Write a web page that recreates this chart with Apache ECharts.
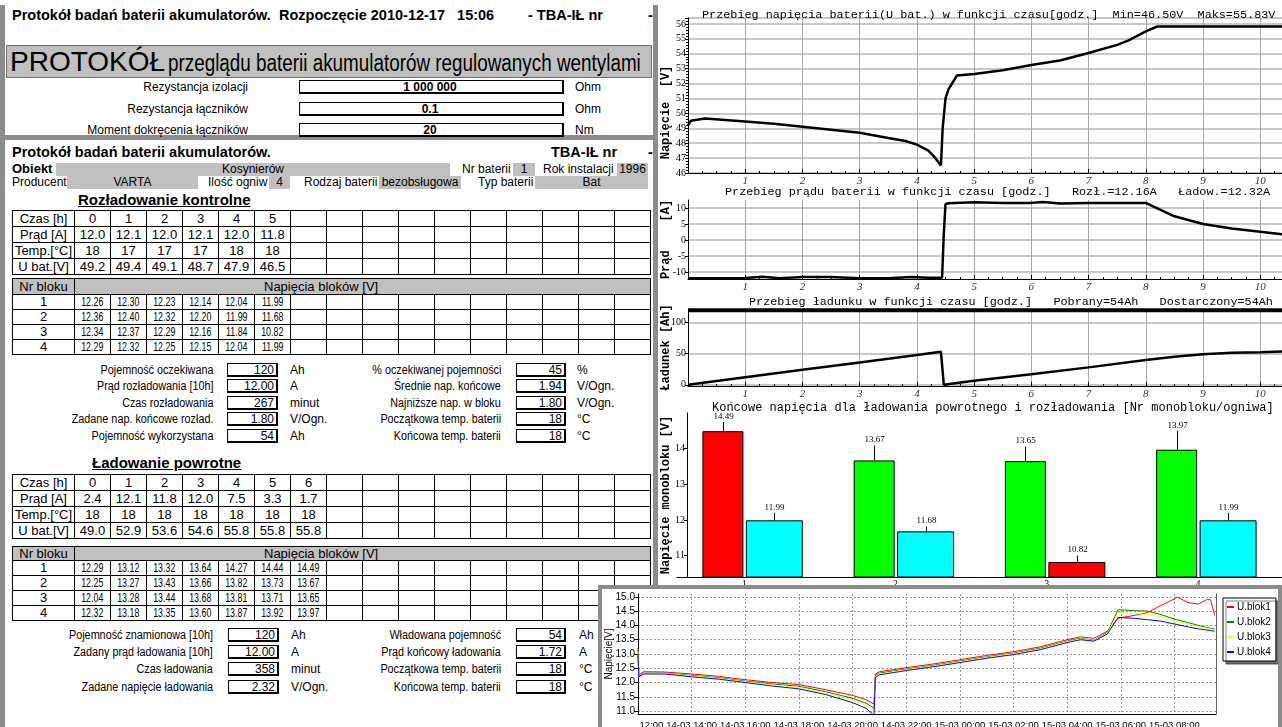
<!DOCTYPE html>
<html lang="pl">
<head>
<meta charset="UTF-8">
<meta name="viewport" content="width=device-width, initial-scale=1.0">
<title>Protokół badań baterii akumulatorów</title>
<script src="https://cdn.jsdelivr.net/npm/echarts@6.0.0/dist/echarts.min.js"></script>
<style>
  body { margin:0; width:1282px; height:727px; overflow:hidden; position:relative; background:#fff; color:#000;
         font-family:'Liberation Sans', Arial, sans-serif; }
  .t { position:absolute; white-space:nowrap; font-size:12px; line-height:14px; height:14px; }
  .n { display:inline-block; }
  .frame { position:absolute; box-sizing:border-box; border:5px solid #8c8c8c; }
  .gray { position:absolute; background:#c0c0c0; text-align:center; font-size:12px; line-height:13px; height:13px; white-space:nowrap; }
  .box { position:absolute; box-sizing:border-box; border:1px solid #000; border-right-width:2px; border-bottom-width:2px;
         height:14px; font-size:12px; line-height:12px; text-align:right; padding-right:2px; }
  table.tb { position:absolute; left:12px; border-collapse:collapse; table-layout:fixed; width:638px; font-size:13px; }
  table.tb td { border:1px solid #000; padding:0; text-align:center; line-height:12px; overflow:hidden; white-space:nowrap; }
  table.tb tr.hd td { background:#c0c0c0; }
  table.tb td .c { display:inline-block; transform:scaleX(0.68); font-size:13px; }
  #right { position:absolute; left:660px; top:0; width:622px; height:590px; }
  #ovl { position:absolute; left:598px; top:585px; width:676px; height:138px; border:4px solid #8c8c8c; border-bottom:none; background:#fff; }
  #ovlc { width:676px; height:138px; }
</style>
</head>
<body>
<div class="frame" style="left:0;top:5px;width:658px;height:135px;border-top:none"></div>
<div class="frame" style="left:0;top:135px;width:658px;height:600px"></div>
<div id="right"></div>
<div id="ovl"><div id="ovlc"></div></div>
<script>
// ---------- dane protokołu ----------
var startDate = '2010-12-17';
var startTime = '15:06';
var rezLabels = ['Rezystancja izolacji', 'Rezystancja łączników', 'Moment dokręcenia łączników'];
var rezValues = ['1 000 000', '0.1', '20'];
var rezUnits = ['Ohm', 'Ohm', 'Nm'];

var rozCzas = ['0', '1', '2', '3', '4', '5'];
var rozPrad = ['12.0', '12.1', '12.0', '12.1', '12.0', '11.8'];
var rozTemp = ['18', '17', '17', '17', '18', '18'];
var rozUbat = ['49.2', '49.4', '49.1', '48.7', '47.9', '46.5'];
var rozBloki = [
  ['12.26', '12.30', '12.23', '12.14', '12.04', '11.99'],
  ['12.36', '12.40', '12.32', '12.20', '11.99', '11.68'],
  ['12.34', '12.37', '12.29', '12.16', '11.84', '10.82'],
  ['12.29', '12.32', '12.25', '12.15', '12.04', '11.99']
];
var ladCzas = ['0', '1', '2', '3', '4', '5', '6'];
var ladPrad = ['2.4', '12.1', '11.8', '12.0', '7.5', '3.3', '1.7'];
var ladTemp = ['18', '18', '18', '18', '18', '18', '18'];
var ladUbat = ['49.0', '52.9', '53.6', '54.6', '55.8', '55.8', '55.8'];
var ladBloki = [
  ['12.29', '13.12', '13.32', '13.64', '14.27', '14.44', '14.49'],
  ['12.25', '13.27', '13.43', '13.66', '13.82', '13.73', '13.67'],
  ['12.04', '13.28', '13.44', '13.68', '13.81', '13.71', '13.65'],
  ['12.32', '13.18', '13.35', '13.60', '13.87', '13.92', '13.97']
];
var rozLeft = [['Pojemność oczekiwana', '120', 'Ah'], ['Prąd rozładowania [10h]', '12.00', 'A'], ['Czas rozładowania', '267', 'minut'],
               ['Zadane nap. końcowe rozład.', '1.80', 'V/Ogn.'], ['Pojemność wykorzystana', '54', 'Ah']];
var rozRight = [['% oczekiwanej pojemności', '45', '%'], ['Średnie nap. końcowe', '1.94', 'V/Ogn.'], ['Najniższe nap. w bloku', '1.80', 'V/Ogn.'],
                ['Początkowa temp. baterii', '18', '°C'], ['Końcowa temp. baterii', '18', '°C']];
var ladLeft = [['Pojemność znamionowa [10h]', '120', 'Ah'], ['Zadany prąd ładowania [10h]', '12.00', 'A'], ['Czas ładowania', '358', 'minut'],
               ['Zadane napięcie ładowania', '2.32', 'V/Ogn.']];
var ladRight = [['Władowana pojemność', '54', 'Ah'], ['Prąd końcowy  ładowania', '1.72', 'A'], ['Początkowa temp. baterii', '18', '°C'],
                ['Końcowa temp. baterii', '18', '°C']];

// ---------- dane wykresów ----------
var tU = [0, 0.05, 0.3, 1, 1.5, 2, 2.5, 3, 3.5, 3.8, 4, 4.2, 4.3, 4.42, 4.45, 4.5, 4.55, 4.7, 5, 5.5, 6, 6.5, 7, 7.5, 7.7, 8, 8.2, 10.38];
var uBat = [49.2, 49.5, 49.65, 49.45, 49.3, 49.1, 48.9, 48.7, 48.35, 48.15, 47.9, 47.5, 47.1, 46.5, 49.0, 51.0, 51.6, 52.55, 52.65, 52.9, 53.25, 53.55, 54.05, 54.6, 54.9, 55.5, 55.83, 55.83];
var tI = [0, 0.5, 1, 1.3, 1.6, 2, 2.5, 3, 3.5, 3.9, 4.2, 4.44, 4.47, 4.5, 4.55, 5.0, 5.5, 6.0, 6.2, 6.5, 7, 7.5, 8.0, 8.5, 9.0, 9.5, 10.0, 10.38];
var iBat = [-12.0, -12.0, -11.9, -11.5, -12.0, -11.6, -11.6, -12.0, -12.0, -11.6, -11.8, -11.8, 2.0, 11.2, 11.5, 11.8, 11.6, 11.6, 11.9, 11.4, 11.6, 11.6, 11.6, 7.4, 5.0, 3.6, 2.6, 1.8];
var tQ = [0, 1, 2, 3, 4, 4.42, 4.45, 4.47, 5, 6, 7, 8, 8.5, 9, 9.5, 10, 10.38];
var qBat = [0, 12, 24, 36, 48, 53, 53, 0, 6.5, 17, 28, 40, 45, 49, 51.5, 52.5, 53.5];
var tCap = [0, 10.38];
var qCap = [120, 120];
var iTicks = [-10, -5, 0, 5, 10];
var qTicks = [0, 50, 100];

var blocks = ['1', '2', '3', '4'];
var uCharge = [14.49, 13.67, 13.65, 13.97];
var uChargeTop = [14.75, 14.09, 14.06, 14.5];
var uDis = [11.99, 11.68, 10.82, 11.99];
var uDisTop = [12.2, 11.82, 11.0, 12.2];
var barTicks = [11, 12, 13, 14];

var tO = [0, 0.03, 0.2, 1, 2, 3, 4, 5, 6, 7, 8, 8.5, 8.8, 8.85, 9, 10, 11, 12, 13, 14, 15, 16, 16.5, 17, 17.5, 17.9, 18.5, 19, 19.5, 20, 20.1, 20.5, 20.9, 21.2, 21.35, 21.5];
var blok1 = [13.2, 12.25, 12.38, 12.37, 12.3, 12.22, 12.1, 12.0, 11.93, 11.75, 11.55, 11.4, 11.25, 12.3, 12.38, 12.52, 12.65, 12.8, 12.95, 13.08, 13.25, 13.5, 13.6, 13.55, 13.8, 14.25, 14.35, 14.45, 14.7, 14.93, 15.0, 14.8, 14.75, 14.9, 14.9, 14.35];
var blok2 = [13.15, 12.2, 12.33, 12.33, 12.25, 12.17, 12.05, 11.95, 11.87, 11.68, 11.45, 11.28, 11.1, 12.25, 12.33, 12.47, 12.6, 12.75, 12.9, 13.03, 13.2, 13.45, 13.55, 13.48, 13.75, 14.55, 14.52, 14.5, 14.38, 14.22, 14.2, 14.1, 14.0, 13.93, 13.9, 13.88];
var blok3 = [13.1, 12.2, 12.32, 12.32, 12.23, 12.15, 12.03, 11.92, 11.83, 11.63, 11.38, 11.2, 11.0, 12.22, 12.3, 12.45, 12.58, 12.73, 12.88, 13.01, 13.18, 13.43, 13.53, 13.47, 13.72, 14.45, 14.42, 14.38, 14.3, 14.15, 14.13, 14.05, 13.95, 13.9, 13.87, 13.85];
var blok4 = [13.0, 12.2, 12.3, 12.3, 12.2, 12.12, 12.0, 11.88, 11.78, 11.58, 11.3, 11.1, 10.85, 12.18, 12.27, 12.42, 12.55, 12.7, 12.85, 12.98, 13.15, 13.4, 13.5, 13.45, 13.7, 14.28, 14.25, 14.2, 14.15, 14.05, 14.03, 13.95, 13.88, 13.84, 13.82, 13.8];
var oTicks = [11, 11.5, 12, 12.5, 13, 13.5, 14, 14.5, 15];

// ---------- część tabelaryczna (HTML) ----------
function put(html, css, cls) {
  var d = document.createElement('div');
  d.className = cls || 't';
  d.style.cssText = css;
  d.innerHTML = html;
  document.body.insertBefore(d, document.getElementById('right'));
  return d;
}
function rlabel(text, right, yc, sx) {   // tekst wyrównany do prawej
  put('<span class="n" style="transform:scaleX(' + (sx || 1) + ');transform-origin:right center">' + text + '</span>',
      'right:' + (1282 - right) + 'px;top:' + (yc - 7) + 'px;text-align:right');
}
function gfield(l, r, yc, text) {
  put(text, 'left:' + l + 'px;width:' + (r - l) + 'px;top:' + (yc - 6) + 'px', 'gray');
}
function vbox(l, r, yc, text, center) {
  put(text, 'left:' + l + 'px;width:' + (r - l) + 'px;top:' + (yc - 7) + 'px' + (center ? ';text-align:center;font-weight:bold' : ''), 'box');
}
function table(top, rows, heights, hdr) {
  var h = '<colgroup><col style="width:62px">';
  for (var i = 0; i < 16; i++) h += '<col style="width:36px">';
  h += '</colgroup>';
  rows.forEach(function (r, k) {
    h += '<tr style="height:' + heights[k] + 'px"' + (hdr && k === 0 ? ' class="hd"' : '') + '>';
    if (hdr && k === 0) {
      h += '<td>' + r[0] + '</td><td colspan="16" style="text-align:left;padding-left:189px">' + r[1] + '</td>';
    } else {
      for (var j = 0; j < 17; j++) {
        var v = r[j] !== undefined ? r[j] : '';
        h += '<td>' + (hdr && j > 0 && v ? '<span class="c">' + v + '</span>' : v) + '</td>';
      }
    }
    h += '</tr>';
  });
  var t = document.createElement('table');
  t.className = 'tb';
  t.style.top = top + 'px';
  t.innerHTML = h;
  document.body.insertBefore(t, document.getElementById('right'));
}

// górny panel
put('<b>Protokół badań baterii akumulatorów.&nbsp; Rozpoczęcie ' + startDate + '&nbsp;&nbsp;&nbsp;' + startTime + '</b>',
    'left:12px;top:7px;font-size:14.5px;line-height:16px;height:16px');
put('<b>- TBA-IŁ nr</b>', 'left:528px;top:7px;font-size:14.5px;line-height:16px;height:16px');
put('<b>-</b>', 'left:648px;top:7px;font-size:14.5px;line-height:16px;height:16px');
put('<span style="font-size:28px">PROTOKÓŁ</span> <span class="n" style="font-size:23px;transform:scaleX(0.82);transform-origin:left center">przeglądu baterii akumulatorów regulowanych wentylami</span>',
    'left:6px;top:45px;width:641px;height:31px;line-height:31px;background:#c0c0c0;border:1px solid #707070;padding-left:3px;box-sizing:content-box');
[87, 109, 130].forEach(function (yc, i) {
  rlabel(rezLabels[i], 248, yc);
  vbox(299, 564, yc, rezValues[i], true);
  put(rezUnits[i], 'left:575px;top:' + (yc - 7) + 'px');
});

// dolny panel – nagłówek
put('<b>Protokół badań baterii akumulatorów.</b>', 'left:12px;top:144px;font-size:14.5px;line-height:16px;height:16px');
put('<b>TBA-IŁ nr</b>', 'left:551px;top:144px;font-size:14.5px;line-height:16px;height:16px');
put('<b>-</b>', 'left:648px;top:144px;font-size:14.5px;line-height:16px;height:16px');
put('<b>Obiekt</b>', 'left:12px;top:162px;font-size:13px');
gfield(56, 450, 169, 'Kosynierów');
put('Nr baterii', 'left:462px;top:162px');
gfield(513, 535, 169, '1');
put('Rok instalacji', 'left:543px;top:162px');
gfield(617, 648, 169, '1996');
put('Producent', 'left:12px;top:175px');
gfield(67, 198, 182, 'VARTA');
put('Ilość ogniw', 'left:208px;top:175px');
gfield(269, 290, 182, '4');
put('Rodzaj baterii', 'left:304px;top:175px');
gfield(379, 461, 182, 'bezobsługowa');
put('Typ baterii', 'left:478px;top:175px');
gfield(535, 648, 182, 'Bat');

put('<b><u>Rozładowanie kontrolne</u></b>', 'left:78px;top:191px;font-size:15px;line-height:18px;height:18px');
table(210, [['Czas [h]'].concat(rozCzas), ['Prąd [A]'].concat(rozPrad), ['Temp.[°C]'].concat(rozTemp), ['U bat.[V]'].concat(rozUbat)], [16, 16, 16, 16]);
table(278, [['Nr bloku', 'Napięcia bloków [V]']].concat(rozBloki.map(function (r, i) { return [String(i + 1)].concat(r); })), [16, 15, 15, 15, 15], true);
[370, 386, 403, 419, 436].forEach(function (yc, i) {
  rlabel(rozLeft[i][0], 213, yc, 0.9);
  vbox(227, 278, yc, rozLeft[i][1]);
  put(rozLeft[i][2], 'left:290px;top:' + (yc - 7) + 'px');
  rlabel(rozRight[i][0], 501, yc, 0.9);
  vbox(516, 566, yc, rozRight[i][1]);
  put(rozRight[i][2], 'left:577px;top:' + (yc - 7) + 'px');
});

put('<b><u>Ładowanie powrotne</u></b>', 'left:92px;top:454px;font-size:15px;line-height:18px;height:18px');
table(474, [['Czas [h]'].concat(ladCzas), ['Prąd [A]'].concat(ladPrad), ['Temp.[°C]'].concat(ladTemp), ['U bat.[V]'].concat(ladUbat)], [16, 16, 16, 16]);
table(546, [['Nr bloku', 'Napięcia bloków [V]']].concat(ladBloki.map(function (r, i) { return [String(i + 1)].concat(r); })), [14, 15, 15, 15, 15], true);
[635, 652, 669, 687].forEach(function (yc, i) {
  rlabel(ladLeft[i][0], 213, yc, 0.9);
  vbox(228, 279, yc, ladLeft[i][1]);
  put(ladLeft[i][2], 'left:291px;top:' + (yc - 7) + 'px');
  rlabel(ladRight[i][0], 501, yc, 0.9);
  vbox(516, 566, yc, ladRight[i][1]);
  put(ladRight[i][2], 'left:579px;top:' + (yc - 7) + 'px');
});

// ---------- wykresy po prawej ----------
var serif = 'Liberation Serif', mono = 'Liberation Mono', sans = 'Liberation Sans';
var T_MAX = 10.38;
function zip(a, b) { return a.map(function (v, i) { return [v, b[i]]; }); }

function timeAxis(gi) {
  return {
    type: 'value', gridIndex: gi, min: 0, max: T_MAX, interval: 1,
    axisLine: { onZero: false, lineStyle: { color: '#000' } },
    axisTick: { inside: true, length: 4, lineStyle: { color: '#000' } },
    minorTick: { show: true, splitNumber: 4, length: 2, lineStyle: { color: '#000' } },
    axisLabel: { showMinLabel: false, showMaxLabel: false, fontFamily: serif, fontStyle: 'italic', fontSize: 11, color: '#333', margin: 3 },
    splitLine: { show: true, lineStyle: { color: '#a8a8a8', width: 1 } }
  };
}
function yName(text, pad) {
  return { name: text, nameLocation: 'middle', nameGap: 16, nameMoveOverlap: false,
           nameTextStyle: { fontFamily: mono, fontWeight: 'bold', fontSize: 12, color: '#000', padding: pad || 0 } };
}
var yLabel = { fontFamily: serif, fontSize: 10, color: '#000', margin: 2 };
var hGrid = { show: true, lineStyle: { color: '#c8c8c8', width: 2 } };

function whisker(off) {
  return function (params, api) {
    var c = api.value(0), v = api.value(1), top = api.value(2);
    var p0 = api.coord([c, v]), p1 = api.coord([c, top]);
    var x = Math.round(p0[0] + off) + 0.5;
    return {
      type: 'group', children: [
        { type: 'line', shape: { x1: x, y1: p0[1], x2: x, y2: p1[1] }, style: { stroke: '#000', lineWidth: 1 } },
        { type: 'text', x: x, y: p1[1] - 1, style: { text: v.toFixed(2), align: 'center', verticalAlign: 'bottom', fontSize: 9, fontFamily: serif, fill: '#000' } }
      ]
    };
  };
}

var titleStyle = { fontFamily: mono, fontSize: 11.8, fontWeight: 'normal', color: '#000' };
var chR = echarts.init(document.getElementById('right'));
chR.setOption({
  animation: false,
  title: [
    { text: 'Przebieg napięcia baterii(U bat.) w funkcji czasu[godz.]  Min=46.50V  Maks=55.83V', left: 42, top: 9, padding: 0, textStyle: titleStyle },
    { text: 'Przebieg prądu baterii w funkcji czasu [godz.]   Rozł.=12.16A   Ładow.=12.32A', left: 65, top: 186, padding: 0, textStyle: titleStyle },
    { text: 'Przebieg ładunku w funkcji czasu [godz.]   Pobrany=54Ah   Dostarczony=54Ah', left: 89, top: 296, padding: 0, textStyle: titleStyle },
    { text: 'Końcowe napięcia dla ładowania powrotnego i rozładowania [Nr monobloku/ogniwa]', left: 52, top: 402, padding: 0,
      textStyle: { fontFamily: mono, fontSize: 12, fontWeight: 'normal', color: '#000' } }
  ],
  grid: [
    { left: 28, right: 0, top: 18, height: 155, outerBoundsMode: 'none' },
    { left: 28, right: 0, top: 200, height: 79, outerBoundsMode: 'none' },
    { left: 28, right: 0, top: 309, height: 77, outerBoundsMode: 'none' },
    { left: 17, right: 0, top: 413, height: 164, outerBoundsMode: 'none' }
  ],
  xAxis: [
    timeAxis(0), timeAxis(1), timeAxis(2),
    { type: 'category', gridIndex: 3, data: blocks,
      axisLine: { lineStyle: { color: '#000' } }, axisTick: { show: false },
      axisLabel: { fontFamily: serif, fontSize: 10, color: '#000', margin: 2, padding: [0, 17, 0, 0] } }
  ],
  yAxis: [
    Object.assign({ type: 'value', gridIndex: 0, min: 46, max: 56.4, interval: 1,
      axisLine: { show: true, lineStyle: { color: '#000' } },
      axisTick: { show: true, length: 3, lineStyle: { color: '#000' } },
      minorTick: { show: true, splitNumber: 5, length: 2, lineStyle: { color: '#000' } },
      axisLabel: Object.assign({ showMaxLabel: false }, yLabel),
      splitLine: hGrid }, yName('Napięcie  [V]', [0, 34, 0, 0])),
    Object.assign({ type: 'value', gridIndex: 1, min: -12.2, max: 12.5, splitNumber: 5,
      axisLine: { show: true, onZero: false, lineStyle: { color: '#000' } },
      axisTick: { show: true, length: 3, customValues: iTicks, lineStyle: { color: '#000' } },
      axisLabel: Object.assign({ customValues: iTicks }, yLabel),
      splitLine: hGrid }, yName('Prąd    [A]')),
    Object.assign({ type: 'value', gridIndex: 2, min: -2, max: 122, splitNumber: 2,
      axisLine: { show: true, onZero: false, lineStyle: { color: '#000' } },
      axisTick: { show: true, length: 3, customValues: qTicks, lineStyle: { color: '#000' } },
      axisLabel: Object.assign({ customValues: qTicks }, yLabel),
      splitLine: hGrid }, yName('Ładunek [Ah]')),
    Object.assign({ type: 'value', gridIndex: 3, min: 10.4, max: 15, offset: -10,
      axisLine: { show: true, onZero: false, lineStyle: { color: '#000' } },
      axisTick: { show: true, length: 3, customValues: barTicks, lineStyle: { color: '#000' } },
      axisLabel: Object.assign({ customValues: barTicks }, yLabel),
      splitLine: { show: false } }, yName('Napięcie monobloku [V]'), { nameGap: 15 })
  ],
  series: [
    { type: 'line', xAxisIndex: 0, yAxisIndex: 0, data: zip(tU, uBat), symbol: 'none', lineStyle: { color: '#000', width: 2.5 } },
    { type: 'line', xAxisIndex: 1, yAxisIndex: 1, data: zip(tI, iBat), symbol: 'none', lineStyle: { color: '#000', width: 2.5 } },
    { type: 'line', xAxisIndex: 2, yAxisIndex: 2, data: zip(tQ, qBat), symbol: 'none', lineStyle: { color: '#000', width: 2.5 } },
    { type: 'line', xAxisIndex: 2, yAxisIndex: 2, data: zip(tCap, qCap), symbol: 'none', lineStyle: { color: '#000', width: 4 } },
    { type: 'bar', xAxisIndex: 3, yAxisIndex: 3, data: uCharge, barWidth: 41, barGap: '6%',
      itemStyle: { borderColor: '#000', borderWidth: 1, color: function (p) { return p.value > 14.4 ? '#ff0000' : '#00ff00'; } } },
    { type: 'bar', xAxisIndex: 3, yAxisIndex: 3, data: uDis, barWidth: 57, barGap: '6%',
      itemStyle: { borderColor: '#000', borderWidth: 1, color: function (p) { return p.value < 11 ? '#ff0000' : '#00ffff'; } } },
    { type: 'custom', xAxisIndex: 3, yAxisIndex: 3, renderItem: whisker(-29.7), encode: { x: 0, y: 1 },
      data: blocks.map(function (b, i) { return [i, uCharge[i], uChargeTop[i]]; }) },
    { type: 'custom', xAxisIndex: 3, yAxisIndex: 3, renderItem: whisker(21.7), encode: { x: 0, y: 1 },
      data: blocks.map(function (b, i) { return [i, uDis[i], uDisTop[i]]; }) }
  ]
});

// ---------- wykres napięć bloków (nakładka) ----------
function hourLabel(v) {
  var tot = 12 + v, d = 14 + Math.floor(tot / 24), h = tot % 24;
  var s = (d < 10 ? '0' : '') + d + '-03 ' + (h < 10 ? '0' : '') + h + ':00';
  return v === 0 ? '{hid|' + s.slice(0, 6) + '}' + s.slice(6) : s;
}
var dash = { color: '#9a9a9a', type: [2, 2], width: 1 };
var chO = echarts.init(document.getElementById('ovlc'));
chO.setOption({
  animation: false,
  grid: { left: 36, right: 62, top: 5, bottom: 13, outerBoundsMode: 'none' },
  legend: {
    orient: 'vertical', left: 621, top: 9, icon: 'rect', itemWidth: 7, itemHeight: 2, itemGap: 5, padding: [4, 5, 4, 4],
    backgroundColor: '#fff', borderColor: '#000', borderWidth: 1,
    shadowColor: 'rgba(0,0,0,0.55)', shadowBlur: 1, shadowOffsetX: 3, shadowOffsetY: 3,
    textStyle: { fontSize: 10, fontFamily: sans, color: '#000', padding: [0, 0, 0, -2] }
  },
  xAxis: {
    type: 'value', min: 0, max: 21.55, interval: 2,
    axisLine: { lineStyle: { color: '#000' } }, axisTick: { show: false },
    axisLabel: { showMaxLabel: false, fontSize: 9.5, fontFamily: sans, color: '#000', margin: 6, formatter: hourLabel,
                 rich: { hid: { color: 'rgba(0,0,0,0)', fontSize: 9.5, fontFamily: sans } } },
    splitLine: { lineStyle: dash }
  },
  yAxis: [
    { type: 'value', min: 10.9, max: 15.1, splitNumber: 8,
      axisLine: { show: true, lineStyle: { color: '#000' } },
      axisTick: { show: true, length: 4, customValues: oTicks, lineStyle: { color: '#000' } },
      axisLabel: { customValues: oTicks, formatter: function (v) { return v.toFixed(1); }, fontSize: 10, fontFamily: sans, color: '#000', margin: 3 },
      splitLine: { lineStyle: dash },
      name: 'Napięcie[V]', nameLocation: 'middle', nameGap: 24, nameMoveOverlap: false,
      nameTextStyle: { fontSize: 10, fontFamily: sans, color: '#000' } },
    { type: 'value', min: 10.9, max: 15.1, position: 'right',
      axisLine: { show: true, lineStyle: { color: '#606060' } }, axisTick: { show: false }, axisLabel: { show: false }, splitLine: { show: false } }
  ],
  series: [
    { name: 'U.blok1', type: 'line', data: zip(tO, blok1), symbol: 'none', color: '#ff0000', lineStyle: { width: 1 } },
    { name: 'U.blok2', type: 'line', data: zip(tO, blok2), symbol: 'none', color: '#008000', lineStyle: { width: 1 } },
    { name: 'U.blok3', type: 'line', data: zip(tO, blok3), symbol: 'none', color: '#ffff00', lineStyle: { width: 1 } },
    { name: 'U.blok4', type: 'line', data: zip(tO, blok4), symbol: 'none', color: '#0000ff', lineStyle: { width: 1 } }
  ]
});
</script>
</body>
</html>
